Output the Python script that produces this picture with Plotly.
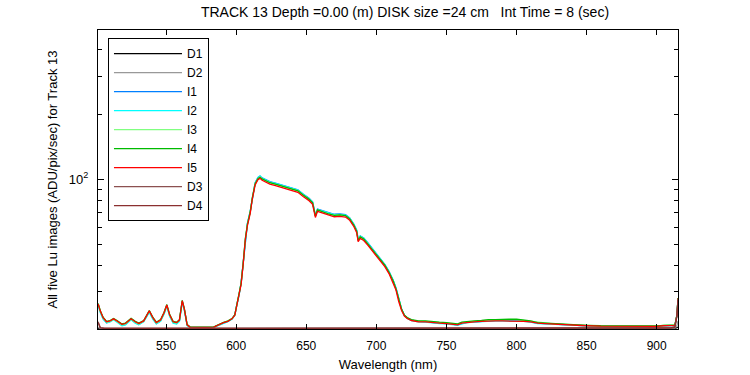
import plotly.graph_objects as go

# ---- data ----
wl_i = [
    501.5, 503, 505, 507.5, 510, 512.5, 515, 518.5, 521, 525,
    528, 530.5, 534, 538, 540.5, 543, 546, 548.5, 550.5, 552.5,
    555, 557.5, 559.5, 561.5, 563, 565, 567, 572, 578, 584,
    588, 591, 594, 597, 599, 600.5, 602, 603.5, 605, 606.5,
    608, 610, 611.5, 613.5, 615.5, 617, 618.5, 621, 624, 628,
    632, 636, 640, 644, 648, 652, 654.5, 655.5, 656.5, 658,
    662, 666, 670, 674, 678, 681, 684, 686, 687, 688.5,
    691, 694, 697, 700, 703, 706, 709, 712, 714, 716,
    718, 720, 722, 725, 730, 735, 740, 745, 750, 755,
    758, 761, 765, 770, 775, 780, 785, 790, 795, 800,
    805, 810, 815, 820, 825, 830, 835, 840, 850, 860,
    870, 880, 890, 895, 900, 905, 910, 913, 914.5, 915.2,
]

I1 = [
    26.2, 24.3, 22.6, 21.6, 21.9, 22.4, 21.9, 21.0, 21.2, 22.4,
    21.6, 21.2, 21.9, 24.3, 22.6, 21.4, 22.0, 23.8, 25.9, 23.3,
    21.6, 21.4, 22.0, 27.0, 24.8, 21.0, 20.6, 20.55, 20.55, 20.6,
    21.1, 21.5, 21.9, 22.5, 23.5, 26.3, 29.0, 33.2, 41.5, 53.5,
    62.5, 71.2, 83.0, 96.5, 102.0, 103.5, 101.5, 99.5, 97.5, 96.0,
    94.2, 92.3, 90.8, 89.3, 85.2, 81.6, 78.5, 72.8, 68.2, 72.8,
    71.3, 69.8, 68.8, 69.0, 68.5, 66.2, 61.8, 58.0, 52.6, 54.6,
    53.4, 50.6, 47.7, 45.3, 42.7, 40.3, 37.4, 34.0, 31.3, 27.6,
    25.0, 23.4, 22.7, 22.2, 21.9, 21.8, 21.6, 21.5, 21.4, 21.3,
    21.1, 21.4, 21.7, 21.8, 21.9, 22.1, 22.1, 22.1, 22.1, 22.1,
    22.0, 21.8, 21.5, 21.4, 21.3, 21.2, 21.1, 21.0, 20.9, 20.8,
    20.8, 20.75, 20.7, 20.7, 20.75, 20.9, 20.9, 21.0, 23.5, 28.0,
]

I2 = [
    26.0, 24.1, 22.4, 21.5, 21.8, 22.3, 21.7, 20.9, 21.1, 22.3,
    21.5, 21.1, 21.8, 24.1, 22.4, 21.3, 21.9, 23.6, 25.7, 23.1,
    21.5, 21.3, 21.9, 26.8, 24.6, 20.95, 20.55, 20.5, 20.5, 20.55,
    21.0, 21.4, 21.8, 22.4, 23.3, 26.1, 28.8, 33.0, 41.2, 53.2,
    62.2, 70.8, 82.6, 96.0, 101.6, 103.6, 101.2, 99.0, 97.0, 95.6,
    93.8, 92.0, 90.5, 89.0, 85.0, 81.3, 78.2, 72.5, 67.9, 72.4,
    71.0, 69.5, 68.5, 68.7, 68.2, 66.0, 61.6, 57.8, 52.4, 54.4,
    53.2, 50.4, 47.5, 45.1, 42.5, 40.2, 37.3, 33.9, 31.2, 27.5,
    24.9, 23.3, 22.6, 22.1, 21.8, 21.7, 21.5, 21.4, 21.3, 21.2,
    21.0, 21.3, 21.6, 21.7, 21.8, 22.0, 22.0, 22.0, 22.0, 22.0,
    21.9, 21.7, 21.4, 21.3, 21.2, 21.1, 21.0, 20.9, 20.85, 20.75,
    20.75, 20.7, 20.65, 20.65, 20.7, 20.85, 20.85, 20.95, 23.4, 27.8,
]

I3 = [
    26.3, 24.4, 22.7, 21.7, 21.9, 22.4, 21.9, 21.1, 21.3, 22.4,
    21.7, 21.3, 21.9, 24.4, 22.7, 21.5, 22.1, 23.9, 26.0, 23.4,
    21.7, 21.5, 22.1, 27.2, 24.9, 21.05, 20.6, 20.55, 20.55, 20.6,
    21.15, 21.55, 21.9, 22.5, 23.4, 26.2, 28.8, 33.0, 41.0, 53.0,
    62.0, 70.5, 82.2, 95.5, 101.0, 102.5, 100.5, 98.5, 96.5, 95.0,
    93.3, 91.5, 90.0, 88.5, 84.4, 80.8, 77.8, 72.2, 67.6, 72.2,
    70.6, 69.1, 68.1, 68.4, 67.9, 65.6, 61.2, 57.4, 52.1, 54.1,
    52.9, 50.1, 47.2, 44.8, 42.2, 39.9, 37.0, 33.7, 31.0, 27.4,
    24.9, 23.4, 22.7, 22.2, 21.9, 21.9, 21.7, 21.6, 21.5, 21.4,
    21.2, 21.6, 21.8, 21.9, 22.0, 22.2, 22.2, 22.3, 22.3, 22.3,
    22.1, 21.9, 21.6, 21.5, 21.35, 21.25, 21.15, 21.05, 20.95, 20.85,
    20.85, 20.8, 20.75, 20.75, 20.8, 20.95, 20.95, 21.05, 23.5, 28.0,
]

I4 = [
    26.5, 24.6, 22.9, 21.9, 22.1, 22.6, 22.1, 21.3, 21.5, 22.6,
    21.9, 21.5, 22.1, 24.6, 22.9, 21.7, 22.3, 24.1, 26.2, 23.6,
    21.9, 21.7, 22.3, 27.4, 25.1, 21.15, 20.65, 20.6, 20.6, 20.65,
    21.25, 21.65, 21.95, 22.55, 23.5, 26.1, 28.7, 32.8, 40.8, 52.8,
    61.8, 70.3, 82.0, 95.2, 100.6, 102.2, 100.4, 98.4, 96.4, 94.9,
    93.2, 91.4, 89.9, 88.4, 84.3, 80.7, 77.7, 72.1, 67.5, 72.1,
    70.5, 69.0, 68.0, 68.3, 67.8, 65.5, 61.1, 57.3, 52.0, 54.0,
    52.8, 50.0, 47.2, 44.8, 42.2, 39.9, 37.0, 33.7, 31.0, 27.4,
    24.9, 23.4, 22.8, 22.3, 22.0, 22.0, 21.8, 21.7, 21.6, 21.5,
    21.3, 21.7, 21.9, 22.0, 22.1, 22.3, 22.3, 22.4, 22.4, 22.4,
    22.2, 22.0, 21.6, 21.5, 21.4, 21.3, 21.2, 21.1, 21.0, 20.9,
    20.9, 20.85, 20.8, 20.8, 20.85, 21.0, 21.0, 21.1, 23.6, 28.1,
]

I5 = [
    26.4, 24.5, 22.8, 21.8, 22.0, 22.5, 22.0, 21.2, 21.4, 22.5,
    21.8, 21.4, 22.0, 24.5, 22.8, 21.6, 22.2, 24.0, 26.1, 23.5,
    21.8, 21.6, 22.2, 27.3, 25.0, 21.1, 20.6, 20.55, 20.55, 20.6,
    21.2, 21.6, 21.9, 22.5, 23.4, 26.0, 28.5, 32.5, 40.5, 52.2,
    61.0, 69.5, 81.0, 94.0, 99.5, 101.0, 99.0, 97.0, 95.0, 93.5,
    91.8, 90.0, 88.5, 87.0, 83.0, 79.5, 76.5, 71.0, 66.5, 71.0,
    69.5, 68.0, 67.0, 67.3, 66.8, 64.5, 60.2, 56.5, 51.3, 53.2,
    52.0, 49.3, 46.5, 44.1, 41.6, 39.3, 36.5, 33.2, 30.6, 27.0,
    24.6, 23.2, 22.6, 22.1, 21.8, 21.8, 21.6, 21.5, 21.4, 21.3,
    21.1, 21.5, 21.7, 21.8, 21.9, 22.0, 22.0, 22.0, 22.0, 22.0,
    21.9, 21.8, 21.5, 21.4, 21.3, 21.2, 21.1, 21.0, 20.9, 20.8,
    20.8, 20.75, 20.7, 20.7, 20.75, 20.9, 20.9, 21.0, 23.5, 28.0,
]

wl_d = [501.5, 503, 506, 520, 560, 600, 650, 700, 750, 800, 850, 900, 910, 913, 914.5, 915.2]
D1 = [20.3, 20.2, 20.15, 20.15, 20.15, 20.15, 20.15, 20.15, 20.15, 20.15, 20.15, 20.15, 20.2, 20.3, 20.5, 20.6]
D2 = [20.6, 20.3, 20.25, 20.25, 20.25, 20.25, 20.25, 20.25, 20.25, 20.25, 20.25, 20.25, 20.3, 20.4, 21.0, 22.0]
D3 = [21.8, 20.5, 20.35, 20.35, 20.35, 20.35, 20.35, 20.35, 20.35, 20.35, 20.35, 20.35, 20.45, 20.7, 23.5, 27.8]
D4 = [21.6, 20.45, 20.3, 20.3, 20.3, 20.3, 20.3, 20.3, 20.3, 20.3, 20.3, 20.3, 20.4, 20.6, 23.3, 27.5]

x_ticks = [550, 600, 650, 700, 750, 800, 850, 900]
y_major = [100]
y_major_text = ["10<sup>2</sup>"]
y_minor = [30, 40, 50, 60, 70, 80, 90, 200, 300, 400]

series = [
    ("D1", wl_d, D1, "#000000"),
    ("D2", wl_d, D2, "#999999"),
    ("I1", wl_i, I1, "#0080ff"),
    ("I2", wl_i, I2, "#00ffff"),
    ("I3", wl_i, I3, "#80ff80"),
    ("I4", wl_i, I4, "#00bb00"),
    ("I5", wl_i, I5, "#ff0000"),
    ("D3", wl_d, D3, "#8c5050"),
    ("D4", wl_d, D4, "#8b3030"),
]

FONT = "Liberation Sans, Arial, Helvetica, sans-serif"
NB = "\u00a0"

fig = go.Figure()
for name, xs, ys, col in series:
    fig.add_trace(go.Scatter(x=xs, y=ys, mode="lines", name=name,
                             line=dict(color=col, width=1.3)))

title_text = "TRACK 13 Depth =0.00 (m) DISK size =24 cm" + NB * 3 + "Int Time = 8 (sec)"

fig.update_layout(
    width=750, height=375,
    margin=dict(l=98, r=72, t=30, b=46),
    paper_bgcolor="white", plot_bgcolor="white",
    font=dict(family=FONT, size=12, color="black"),
    title=dict(text=title_text,
               x=0.540, xanchor="center", y=1 - 12 / 375, yanchor="middle",
               font=dict(family=FONT, size=14, color="black")),
    showlegend=True,
    legend=dict(x=0.0172, y=0.973, xanchor="left", yanchor="top",
                bgcolor="white", bordercolor="black", borderwidth=1,
                font=dict(family=FONT, size=12, color="black"),
                itemwidth=68, tracegroupgap=0),
    xaxis=dict(range=[501.4, 915.2], tickmode="array", tickvals=x_ticks,
               automargin=False,
               ticks="inside", ticklen=5, tickcolor="black",
               ticklabelstandoff=6,
               showline=True, linecolor="black", linewidth=1, mirror="ticks",
               showgrid=False, zeroline=False,
               title=dict(text="Wavelength (nm)", standoff=7,
                          font=dict(family=FONT, size=13, color="black"))),
    yaxis=dict(type="log", range=[1.305, 2.693], tickmode="array",
               tickvals=y_major, ticktext=y_major_text,
               automargin=False,
               ticks="inside", ticklen=6, tickcolor="black",
               ticklabelstandoff=6,
               tickfont=dict(family=FONT, size=13, color="black"),
               minor=dict(tickmode="array", tickvals=y_minor, ticks="inside",
                          ticklen=4, tickcolor="black", showgrid=False),
               showline=True, linecolor="black", linewidth=1, mirror="ticks",
               showgrid=False, zeroline=False,
               title=dict(text="All five Lu images (ADU/pix/sec) for Track 13", standoff=8,
                          font=dict(family=FONT, size=13, color="black"))),
)

# remove the browser's default 8px body margin so the figure sits at the page origin
fig.write_html("out.html",
               config={"displayModeBar": False},
               post_script="document.body.style.margin='0';document.body.style.overflow='hidden';")
